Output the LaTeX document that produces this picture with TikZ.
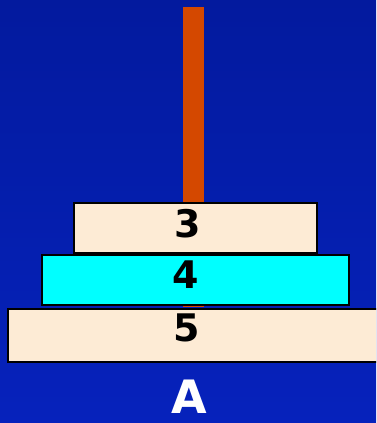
\documentclass[tikz,border=0pt]{standalone}
\usepackage{fontspec}
\setmainfont{DejaVu Sans}
\usepackage{xcolor}
\definecolor{bgtop}{RGB}{3,26,158}
\definecolor{bgbot}{RGB}{6,34,188}
\definecolor{pegred}{RGB}{212,72,0}
\definecolor{papaya}{RGB}{253,235,213}
\definecolor{aqua}{RGB}{0,255,255}
\begin{document}
\begin{tikzpicture}[
    x=1pt, y=-1pt,
    disk/.style={draw=black, line width=1.4pt, inner sep=0pt, minimum height=50pt},
    num/.style={font=\fontsize{38}{38}\selectfont\bfseries, text=black, inner sep=0pt},
]
\useasboundingbox (0,0) rectangle (376,423);
\clip (0,0) rectangle (376,423);
\shade[top color=bgtop, bottom color=bgbot] (0,0) rectangle (376,423);

% peg
\node[fill=pegred, inner sep=0pt, minimum width=21pt, minimum height=300pt, anchor=north] (peg) at (193.5,7) {};

% disks, bottom to top
\node[disk, fill=papaya, minimum width=375pt, minimum height=53pt] (d5) at (195.5,335.5) {};
\node[disk, fill=aqua, minimum width=307pt] (d4) at (195.5,280) {};
\node[disk, fill=papaya, minimum width=243pt] (d3) at (195.5,228) {};

\node[num] (n3) at ([xshift=-8pt,yshift=4pt]d3.center) {3};
\node[num] (n4) at ([xshift=-10pt,yshift=5pt]d4.center) {4};
\node[num] (n5) at ([xshift=-9pt,yshift=8pt]d5.center) {5};

% pole label
\node[font=\fontsize{46}{46}\selectfont\bfseries, text=white, inner sep=0pt] (lblA) at (189,397) {A};
\end{tikzpicture}
\end{document}
